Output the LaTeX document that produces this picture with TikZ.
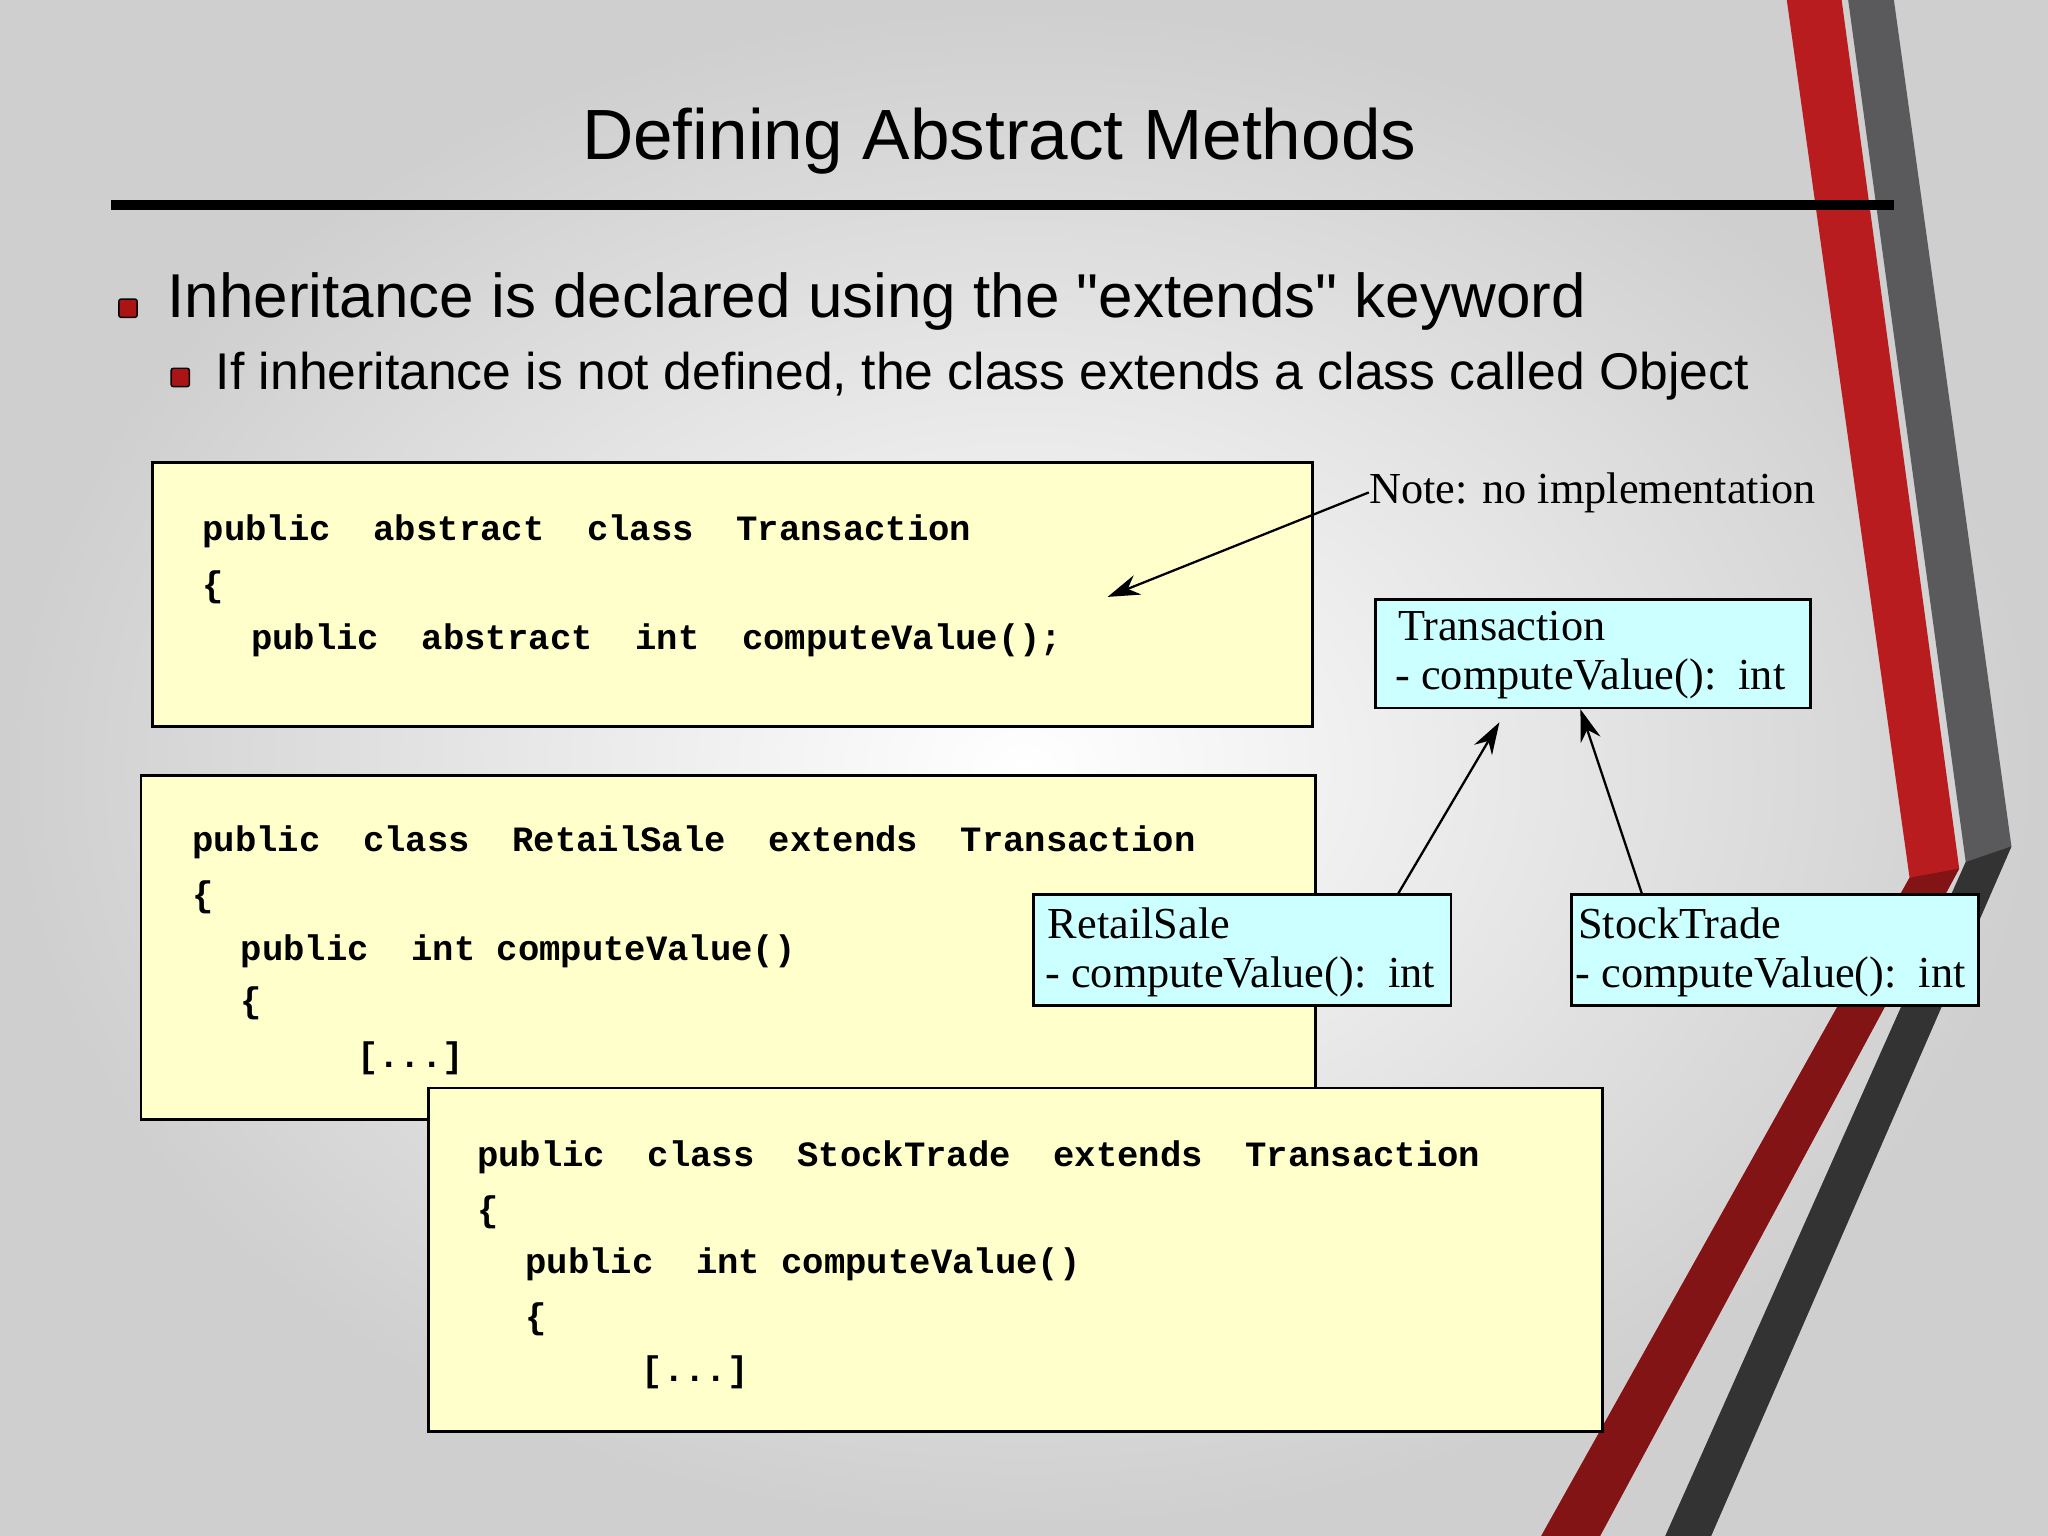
\documentclass[tikz,border=0pt]{standalone}
\usepackage{fontspec}
\setmainfont{Liberation Serif}
\setsansfont[Ligatures=TeXOff]{Liberation Sans}
\setmonofont{Liberation Mono}
\usetikzlibrary{arrows.meta}
\definecolor{codey}{RGB}{255,255,204}
\definecolor{umlc}{RGB}{204,255,255}
\definecolor{stripered}{RGB}{185,28,30}
\definecolor{stripedark}{RGB}{130,20,22}
\definecolor{stripegray}{RGB}{90,90,92}
\definecolor{bulletred}{RGB}{170,20,20}
\tikzset{
 codebox/.style={draw=black,line width=1.2pt,fill=codey},
 umlbox/.style={draw=black,line width=1.2pt,fill=umlc},
 code/.style={anchor=west,inner sep=0pt,font=\ttfamily\bfseries\fontsize{15.5}{18}\selectfont},
 umltxt/.style={anchor=west,inner sep=0pt,font=\fontsize{19.3}{24}\selectfont},
 arr/.style={-{Stealth[length=14pt,width=9pt]},line width=1pt},
 bul/.style={fill=bulletred,draw=black,line width=0.6pt,rounded corners=1pt}
}
\begin{document}
\begin{tikzpicture}[x=0.02cm,y=-0.02cm]
\useasboundingbox (0,0) rectangle (1568,1176);
\shade[inner color=white,outer color=gray!38] (0,0) rectangle (1568,1176);
% stripes
\fill[stripered] (1368,0)--(1410,0)--(1500,665)--(1225,1176)--(1180,1176)--(1462,672)--cycle;
\fill[stripedark] (1462,672)--(1500,665)--(1225,1176)--(1180,1176)--cycle;
\fill[stripegray] (1415,0)--(1450,0)--(1540,648)--(1310,1176)--(1275,1176)--(1505,660)--cycle;
\fill[gray!40!black] (1505,660)--(1540,648)--(1310,1176)--(1275,1176)--cycle;
% title
\node[font=\sffamily\fontsize{31}{36}\selectfont] (title) at (765,108) {Defining Abstract Methods};
\draw[line width=4pt] (85,157) -- (1450,157);
% bullets
\node[bul,minimum size=8pt,inner sep=0pt] (b1) at (98,236) {};
\node[anchor=west,inner sep=0pt,font=\sffamily\fontsize{27}{30}\selectfont] (t1) at (128,231) {Inheritance is declared using the "extends" keyword};
\node[bul,minimum size=8pt,inner sep=0pt] (b2) at (138,289) {};
\node[anchor=west,inner sep=0pt,font=\sffamily\fontsize{22.5}{26}\selectfont] (t2) at (165,288) {If inheritance is not defined, the class extends a class called Object};
% box1
\draw[codebox] (117,354) rectangle (1005,556);
\node[code] (c11) at (155,407) {public\ \ abstract\ \ class\ \ Transaction};
\node[code] (c12) at (155,450) {\{};
\node[code] (c13) at (192,490) {public\ \ abstract\ \ int\ \ computeValue();};
% box2
\draw[codebox] (108,594) rectangle (1007,857);
\node[code] (c21) at (147,645) {public\ \ class\ \ RetailSale\ \ extends\ \ Transaction};
\node[code] (c22) at (147,687) {\{};
\node[code] (c23) at (184,728) {public\ \ int computeValue()};
\node[code] (c24) at (184,768) {\{};
\node[code] (c25) at (273,810) {[...]};
% box3
\draw[codebox] (328,833) rectangle (1227,1096);
\node[code] (c31) at (365,886) {public\ \ class\ \ StockTrade\ \ extends\ \ Transaction};
\node[code] (c32) at (365,928) {\{};
\node[code] (c33) at (402,968) {public\ \ int computeValue()};
\node[code] (c34) at (402,1010) {\{};
\node[code] (c35) at (491,1051) {[...]};
% note
\node[umltxt] (note) at (1048,377) {Note: no implementation};
\coordinate (noteTip) at (848,457);
\draw[arr] (note.west) -- (noteTip);
% uml
\draw[umlbox] (1053,459) rectangle (1386,542);
\node[umltxt] (u1a) at (1070,479) {Transaction};
\node[umltxt] (u1b) at (1068,520) {- computeValue():\ \ int};
\draw[umlbox] (791,685) rectangle (1111,770);
\node[umltxt] (u2a) at (802,707) {RetailSale};
\node[umltxt] (u2b) at (800,748) {- computeValue():\ \ int};
\draw[umlbox] (1203,685) rectangle (1515,770);
\node[umltxt] (u3a) at (1208,707) {StockTrade};
\node[umltxt] (u3b) at (1206,748) {- computeValue():\ \ int};
\coordinate (rs) at (1070,685); \coordinate (rsT) at (1148,553);
\coordinate (st) at (1257,684); \coordinate (stT) at (1210,543);
\draw[arr] (rs) -- (rsT);
\draw[arr] (st) -- (stT);
\end{tikzpicture}
\end{document}
